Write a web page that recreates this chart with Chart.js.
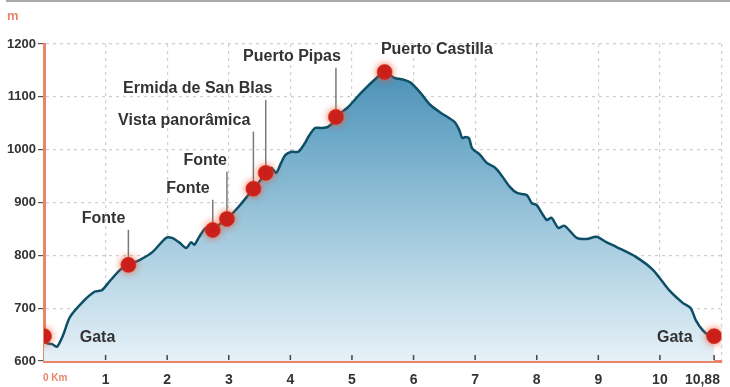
<!DOCTYPE html>
<html>
<head>
<meta charset="utf-8">
<script src="https://cdn.jsdelivr.net/npm/chart.js@4/dist/chart.umd.min.js"></script>
<style>
  body { margin: 0; background: #fff; }
  #wrap { position: relative; width: 730px; height: 387px; }
</style>
</head>
<body>
<div id="wrap"><canvas id="perfil"></canvas></div>
<script>
// perfil de la ruta: distancia (km) y altitud (m)
var distKm = [0, 0.05, 0.13, 0.21, 0.31, 0.42, 0.63, 0.82, 0.94, 1.06, 1.23, 1.37, 1.55, 1.76, 1.98, 2.08,
  2.19, 2.31, 2.39, 2.44, 2.52, 2.63, 2.74, 2.84, 2.97, 3.16, 3.40, 3.52, 3.60, 3.69, 3.77, 3.85, 3.92,
  4.02, 4.13, 4.24, 4.29, 4.40, 4.50, 4.61, 4.73, 4.74, 4.94, 5.15, 5.42, 5.53, 5.69, 5.85, 5.95, 6.11,
  6.27, 6.44, 6.66, 6.74, 6.79, 6.84, 6.90, 6.95, 7.08, 7.19, 7.31, 7.40, 7.56, 7.68, 7.84, 7.92, 8.00,
  8.16, 8.24, 8.35, 8.45, 8.65, 8.81, 8.97, 9.13, 9.29, 9.61, 9.89, 10.15, 10.37, 10.50, 10.58, 10.69,
  10.80, 10.88];
var elevM = [647, 634, 632, 627, 649, 683, 712, 731, 734, 750, 772, 782, 791, 806, 833, 833,
  825, 814, 825, 820, 835, 852, 848, 858, 869, 892, 926, 943, 956, 966, 956, 975, 990,
  996, 996, 1013, 1024, 1041, 1041, 1043, 1056, 1062, 1081, 1108, 1138, 1147, 1136, 1132, 1127, 1108,
  1085, 1070, 1053, 1038, 1022, 1024, 1022, 1003, 990, 975, 967, 956, 930, 918, 914, 899, 895,
  867, 871, 852, 856, 833, 831, 835, 825, 816, 797, 772, 734, 710, 700, 678, 659,
  648, 647];

// puntos de interes
var markerNames = ['Gata', 'Fonte', 'Fonte', 'Fonte', 'Vista panorâmica', 'Ermida de San Blas', 'Puerto Pipas', 'Puerto Castilla', 'Gata'];
var markerKm    = [0, 1.37, 2.74, 2.97, 3.40, 3.60, 4.74, 5.53, 10.88];
var markerElev  = [647, 782, 848, 869, 926, 956, 1062, 1147, 647];
// donde va cada texto (km del borde del texto, altitud del centro)
var labelKm     = [0.58, 1.32, 2.69, 2.97, 3.35, 3.71, 4.82, 5.47, 10.53];
var labelElev   = [645, 869, 926, 979, 1055, 1115, 1176, 1189, 645];
var labelAlign  = ['left', 'right', 'right', 'right', 'right', 'right', 'right', 'left', 'right'];
var hasLeader   = [false, true, true, true, true, true, true, false, false];

var xTicks = [0, 1, 2, 3, 4, 5, 6, 7, 8, 9, 10, 10.88, 11];
var yMin = 600, yMax = 1200, yStep = 100;

var naranja = '#e9866a';
var fuente = '"Liberation Sans", Arial, sans-serif';

var etiquetas = {
  id: 'etiquetas',
  beforeDatasetsDraw: function(chart) {
    var ctx = chart.ctx, x = chart.scales.x, y = chart.scales.y;
    ctx.save();
    ctx.strokeStyle = '#7a7a7a';
    ctx.lineWidth = 1.5;
    for (var i = 0; i < markerNames.length; i++) {
      if (!hasLeader[i]) continue;
      var px = x.getPixelForValue(markerKm[i]);
      ctx.beginPath();
      ctx.moveTo(px, y.getPixelForValue(labelElev[i]) + 11);
      ctx.lineTo(px, y.getPixelForValue(markerElev[i]));
      ctx.stroke();
    }
    ctx.restore();
  },
  beforeDatasetDraw: function(chart, args) {
    if (args.index === 1) {
      chart.ctx.save();
      chart.ctx.shadowColor = 'rgba(240,90,50,0.9)';
      chart.ctx.shadowBlur = 7;
    }
  },
  afterDatasetDraw: function(chart, args) {
    if (args.index === 1) chart.ctx.restore();
  },
  afterDatasetsDraw: function(chart) {
    var ctx = chart.ctx, x = chart.scales.x, y = chart.scales.y;
    ctx.save();
    ctx.font = 'bold 16px ' + fuente;
    ctx.fillStyle = '#333';
    ctx.textBaseline = 'middle';
    for (var i = 0; i < markerNames.length; i++) {
      ctx.textAlign = labelAlign[i];
      ctx.fillText(markerNames[i], x.getPixelForValue(labelKm[i]), y.getPixelForValue(labelElev[i]));
    }
    // marcas pequeñas del eje x, hacia dentro
    ctx.strokeStyle = '#444';
    ctx.lineWidth = 1.5;
    xTicks.forEach(function(v) {
      if (v === 0 || v === 11) return;
      var px = x.getPixelForValue(v);
      ctx.beginPath();
      ctx.moveTo(px, y.bottom - 1);
      ctx.lineTo(px, y.bottom - 6);
      ctx.stroke();
    });
    ctx.restore();
  },
  afterDraw: function(chart) {
    var ctx = chart.ctx;
    ctx.save();
    ctx.strokeStyle = '#aaa';
    ctx.lineWidth = 2;
    ctx.beginPath(); ctx.moveTo(6, 1); ctx.lineTo(730, 1); ctx.stroke();
    ctx.font = 'bold 13px ' + fuente;
    ctx.fillStyle = naranja;
    ctx.textAlign = 'left';
    ctx.textBaseline = 'middle';
    ctx.fillText('m', 7, 16);
    ctx.restore();
  }
};

var puntosPerfil = distKm.map(function(d, i) { return {x: d, y: elevM[i]}; });
var puntosMarca = markerKm.map(function(d, i) { return {x: d, y: markerElev[i]}; });

new Chart(document.getElementById('perfil'), {
  type: 'line',
  plugins: [etiquetas],
  data: {
    datasets: [
      {
        data: puntosPerfil,
        order: 2,
        borderColor: '#0e4f68',
        borderWidth: 2.5,
        pointRadius: 0,
        tension: 0.25,
        fill: 'start',
        backgroundColor: function(c) {
          var a = c.chart.chartArea;
          if (!a) return 'rgba(100,160,200,0.5)';
          var g = c.chart.ctx.createLinearGradient(0, a.top, 0, a.bottom);
          g.addColorStop(0, '#3f86b0');
          g.addColorStop(0.3, '#6ea9c8');
          g.addColorStop(0.65, '#abcfe1');
          g.addColorStop(1, '#e6f1f7');
          return g;
        }
      },
      {
        data: puntosMarca,
        order: 1,
        showLine: false,
        pointRadius: 7.5,
        pointHoverRadius: 7.5,
        pointBackgroundColor: '#c81e1a',
        pointBorderColor: 'rgba(220,40,30,0.6)',
        pointBorderWidth: 1
      }
    ]
  },
  options: {
    responsive: true,
    maintainAspectRatio: false,
    animation: false,
    layout: { padding: { top: 44, right: 4, left: 0, bottom: 0 } },
    plugins: { legend: { display: false }, tooltip: { enabled: false } },
    scales: {
      x: {
        type: 'linear',
        min: 0,
        max: 11,
        afterBuildTicks: function(s) { s.ticks = xTicks.map(function(v) { return {value: v}; }); },
        afterFit: function(s) { s.height = 26; s.paddingLeft = 0; s.paddingRight = 0; },
        border: { color: naranja, width: 3, dash: [3, 4] },
        grid: {
          drawTicks: false,
          color: function(c) { return (c.tick && (c.tick.value === 10.88 || c.tick.value === 0)) ? 'rgba(0,0,0,0)' : '#cfcfcf'; },
          lineWidth: 1.2
        },
        ticks: {
          autoSkip: false,
          maxRotation: 0,
          padding: 11,
          color: function(c) { return c.tick.value === 0 ? naranja : '#333'; },
          font: function(c) {
            return c.tick && c.tick.value === 0
              ? {family: fuente, size: 10, weight: 'bold'}
              : {family: fuente, size: 14, weight: 'bold'};
          },
          callback: function(v) {
            if (v === 0) return '\u2007\u2007\u2007\u20070 Km';
            if (v === 11) return '';
            if (v === 10.88) return '10,88\u2007\u2007\u2007';
            return String(v);
          }
        }
      },
      y: {
        min: yMin,
        max: yMax,
        afterFit: function(s) { s.width = 44; s.paddingTop = 0; s.paddingBottom = 0; },
        border: { color: naranja, width: 3, dash: [3, 4] },
        grid: {
          color: function(c) { return c.tick && c.tick.value === yMin ? 'rgba(0,0,0,0)' : '#cfcfcf'; },
          tickColor: '#555',
          tickLength: 6,
          lineWidth: 1.2
        },
        ticks: {
          stepSize: yStep,
          padding: 2,
          color: '#333',
          font: {family: fuente, size: 13, weight: 'bold'},
          callback: function(v) { return String(v); }
        }
      }
    }
  }
});
</script>
</body>
</html>
